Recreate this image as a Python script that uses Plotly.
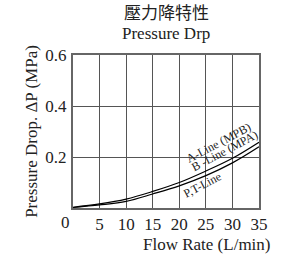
import plotly.graph_objects as go

flow = [0, 5, 10, 15, 20, 25, 30, 35]
ab_line = [0.003, 0.016, 0.035, 0.065, 0.100, 0.145, 0.195, 0.258]
pt_line = [0.002, 0.012, 0.026, 0.055, 0.087, 0.127, 0.177, 0.240]

x_ticks = [5, 10, 15, 20, 25, 30, 35]
y_ticks = [0.2, 0.4, 0.6]

serif = "Liberation Serif, Times New Roman, serif"
txt = "#222"

fig = go.Figure()
fig.add_trace(go.Scatter(x=flow, y=ab_line, mode="lines", line=dict(color="black", width=1.2, shape="spline"), showlegend=False))
fig.add_trace(go.Scatter(x=flow, y=pt_line, mode="lines", line=dict(color="black", width=1.2, shape="spline"), showlegend=False))

annos = [
    dict(x=27.3, y=0.256, text="A-Line (MPB)"),
    dict(x=28.5, y=0.225, text="B -Line (MPA)"),
    dict(x=24.3, y=0.091, text="P,T-Line"),
]
for a in annos:
    fig.add_annotation(x=a["x"], y=a["y"], text=a["text"], textangle=-28, showarrow=False,
                       font=dict(family=serif, size=12, color=txt))

fig.add_annotation(xref="x domain", yref="y domain", x=-0.038, y=-0.092, text="0", showarrow=False,
                   xanchor="center", yanchor="middle", font=dict(family=serif, size=17, color=txt))
fig.add_annotation(xref="x domain", yref="y domain", x=1.07, y=-0.24, text="Flow Rate (L/min)", showarrow=False,
                   xanchor="right", yanchor="middle", font=dict(family=serif, size=17, color=txt))
fig.add_annotation(xref="x domain", yref="y domain", x=0.5, y=1.283, text="壓力降特性", showarrow=False,
                   font=dict(family="Noto Sans CJK TC", size=17, color=txt), yanchor="middle")
fig.add_annotation(xref="x domain", yref="y domain", x=0.5, y=1.138, text="Pressure Drp", showarrow=False,
                   font=dict(family=serif, size=17, color=txt), yanchor="middle")

fig.update_layout(
    width=286, height=255,
    margin=dict(l=73, r=27, t=55, b=47),
    paper_bgcolor="white", plot_bgcolor="white",
    font=dict(family=serif, size=17, color=txt),
)
fig.update_xaxes(range=[0, 35], tickvals=x_ticks, showgrid=True, gridcolor="#555", gridwidth=1,
                 showline=True, linecolor="#666", linewidth=2, mirror=True, ticks="", zeroline=False,
                 automargin=False, tickfont=dict(family=serif, size=17, color=txt))
fig.update_yaxes(range=[0, 0.6], tickvals=y_ticks, ticktext=["0.2", "0.4", "0.6"], showgrid=True, gridcolor="#555", gridwidth=1,
                 showline=True, linecolor="#666", linewidth=2, mirror=True, ticks="", zeroline=False,
                 automargin=False, ticklabelstandoff=1, tickfont=dict(family=serif, size=17, color=txt),
                 title=dict(text="Pressure Drop. ΔP (MPa)", font=dict(family=serif, size=17, color=txt), standoff=3))

fig.write_html("out.html", config={"displayModeBar": False}, post_script="document.body.style.margin='0';")
